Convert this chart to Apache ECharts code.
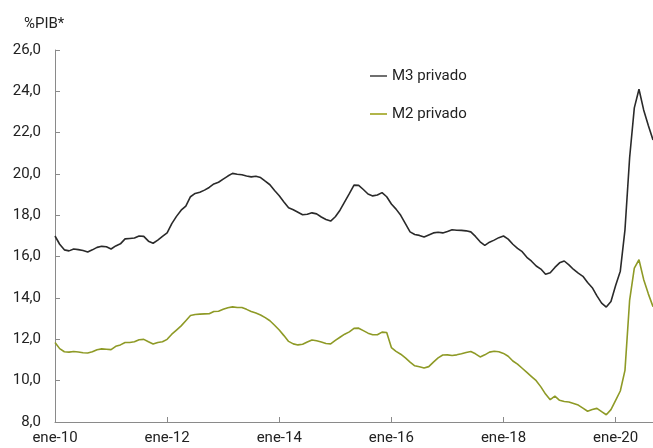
<!DOCTYPE html>
<html>
<head>
<meta charset="utf-8">
<script src="https://cdn.jsdelivr.net/npm/echarts@6/dist/echarts.min.js"></script>
<style>
html,body{margin:0;padding:0;background:#fff;}
#chart{width:653px;height:448px;}
</style>
</head>
<body>
<div id="chart"></div>
<script>
// Month names (Spanish) and years used to build monthly categories ene-10 ... sep-20
const monthNames = ['ene','feb','mar','abr','may','jun','jul','ago','sep','oct','nov','dic'];
const years = ['10','11','12','13','14','15','16','17','18','19','20'];
const lastMonthIndex = 128; // sep-20
const categories = [];
for (let y = 0; y < years.length; y++) {
  for (let m = 0; m < 12; m++) {
    if (categories.length <= lastMonthIndex) categories.push(monthNames[m] + '-' + years[y]);
  }
}

const yTicks = [8, 10, 12, 14, 16, 18, 20, 22, 24, 26];

const m3Privado = [
  17.0, 16.6, 16.33, 16.28, 16.37, 16.34, 16.3, 16.23, 16.33, 16.45, 16.5, 16.48,
  16.37, 16.52, 16.62, 16.86, 16.88, 16.9, 17.0, 16.98, 16.75, 16.65, 16.8, 16.98,
  17.15, 17.6, 17.95, 18.25, 18.45, 18.9, 19.06, 19.12, 19.22, 19.35, 19.52, 19.6,
  19.75, 19.9, 20.03, 19.99, 19.96, 19.9, 19.86, 19.89, 19.83, 19.65, 19.48, 19.2,
  18.95, 18.65, 18.37, 18.27, 18.15, 18.03, 18.05, 18.12, 18.07, 17.92, 17.8, 17.72,
  17.93, 18.25, 18.65, 19.05, 19.46, 19.45, 19.25, 19.03, 18.94, 18.98, 19.1, 18.9,
  18.55, 18.3, 18.0, 17.6, 17.2, 17.07, 17.03, 16.95, 17.05, 17.15, 17.18, 17.15,
  17.22, 17.3, 17.28, 17.27, 17.25, 17.2, 16.98, 16.72, 16.55, 16.7, 16.8, 16.92,
  17.0, 16.85, 16.6, 16.4, 16.24, 15.97, 15.78, 15.55, 15.4, 15.15, 15.22, 15.48,
  15.7, 15.79, 15.6, 15.38, 15.2, 15.05, 14.75, 14.5, 14.1, 13.75, 13.56, 13.83,
  14.6, 15.3, 17.3, 20.8, 23.2, 24.1, 23.1, 22.35, 21.65
];

const m2Privado = [
  11.85, 11.55, 11.4, 11.38, 11.41, 11.39, 11.35, 11.34, 11.4, 11.5, 11.54, 11.52,
  11.5, 11.66, 11.73, 11.85, 11.85, 11.88, 11.98, 12.0, 11.88, 11.77, 11.85, 11.88,
  12.0, 12.25, 12.45, 12.65, 12.9, 13.15, 13.2, 13.22, 13.23, 13.24, 13.35, 13.36,
  13.45, 13.53, 13.57, 13.54, 13.54, 13.45, 13.35, 13.27, 13.18, 13.05, 12.9, 12.68,
  12.45, 12.18, 11.9, 11.78, 11.73, 11.76, 11.87, 11.97, 11.93, 11.87, 11.8, 11.78,
  11.95, 12.1, 12.25, 12.36, 12.53, 12.54, 12.42, 12.3, 12.22, 12.22, 12.35, 12.33,
  11.6, 11.42, 11.28, 11.1, 10.9, 10.72, 10.67, 10.61, 10.68, 10.9, 11.1, 11.24,
  11.25, 11.22, 11.25, 11.3, 11.36, 11.41, 11.3, 11.15, 11.25, 11.38, 11.42, 11.4,
  11.32, 11.18, 10.95, 10.8, 10.6, 10.4, 10.2, 10.0, 9.7, 9.35, 9.08, 9.25,
  9.05, 8.99, 8.97, 8.9, 8.82, 8.67, 8.52, 8.6, 8.66, 8.5, 8.35, 8.6,
  9.05, 9.5, 10.5, 13.9, 15.45, 15.85, 14.9, 14.2, 13.58
];

const seriesNames = ['M3 privado', 'M2 privado'];
const FONT = 'Roboto, "Noto Sans", sans-serif';

const chart = echarts.init(document.getElementById('chart'), null, {renderer: 'canvas'});
chart.setOption({
  backgroundColor: '#ffffff',
  animation: false,
  title: {
    text: '%PIB*',
    left: 19,
    top: 12,
    textStyle: {fontFamily: FONT, fontSize: 15, fontWeight: 'normal', color: '#222'}
  },
  legend: {
    orient: 'vertical',
    left: 365,
    top: 63,
    itemWidth: 17,
    itemHeight: 16,
    itemGap: 22,
    icon: 'path://M0,0L20,0L20,2L0,2Z',
    data: [
      {name: seriesNames[0], itemStyle: {color: '#555555'}},
      {name: seriesNames[1], itemStyle: {color: '#a3a82a'}}
    ],
    textStyle: {fontFamily: FONT, fontSize: 15, color: '#222', lineHeight: 16}
  },
  grid: {left: 55, right: 0, top: 50, bottom: 26, containLabel: false},
  xAxis: {
    type: 'category',
    boundaryGap: false,
    data: categories,
    axisLine: {lineStyle: {color: '#8a8a8a', width: 1}},
    axisTick: {inside: true, length: 5, interval: (i) => i % 24 === 0, lineStyle: {color: '#8a8a8a'}},
    axisLabel: {
      interval: (i) => i % 24 === 0,
      margin: 9,
      fontFamily: FONT, fontSize: 15, color: '#222'
    },
    splitLine: {show: false}
  },
  yAxis: {
    type: 'value',
    min: yTicks[0],
    max: yTicks[yTicks.length - 1],
    interval: 2,
    axisLine: {show: true, lineStyle: {color: '#8a8a8a', width: 1}},
    axisTick: {show: true, inside: true, length: 5, lineStyle: {color: '#8a8a8a'}},
    axisLabel: {
      margin: 14,
      fontFamily: FONT, fontSize: 15, color: '#222',
      formatter: (v) => v.toFixed(1).replace('.', ',')
    },
    splitLine: {show: false}
  },
  series: [
    {
      name: seriesNames[0],
      type: 'line',
      data: m3Privado,
      symbol: 'none',
      smooth: false,
      lineStyle: {color: '#2a2a2a', width: 1.6},
      itemStyle: {color: '#2a2a2a'},
      z: 3
    },
    {
      name: seriesNames[1],
      type: 'line',
      data: m2Privado,
      symbol: 'none',
      smooth: false,
      lineStyle: {color: '#8e9a26', width: 1.6},
      itemStyle: {color: '#8e9a26'},
      z: 2
    }
  ]
});
</script>
</body>
</html>
